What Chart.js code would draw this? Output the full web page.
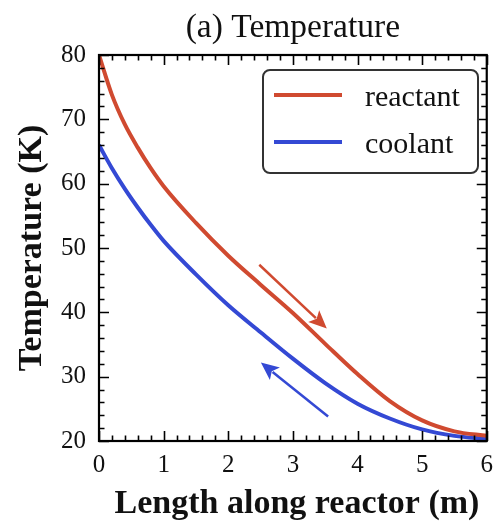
<!DOCTYPE html>
<html>
<head>
<meta charset="utf-8">
<script src="https://cdn.jsdelivr.net/npm/chart.js@4.4.1/dist/chart.umd.min.js"></script>
<style>
  html, body { margin: 0; padding: 0; background: #fff; }
  #wrap { width: 502px; height: 523px; }
</style>
</head>
<body>
<div id="wrap"><canvas id="chart"></canvas></div>
<script>
// values
const lengths  = [0, 0.2, 0.4, 0.6, 0.8, 1, 1.5, 2, 2.5, 3, 3.5, 4, 4.5, 5, 5.5, 6]
const reactant = [80, 73.8, 69.2, 65.6, 62.4, 59.6, 53.9, 48.8, 44.3, 39.9, 35.1, 30.4, 26.2, 23.2, 21.5, 20.8]
const coolant  = [66, 62.4, 59.2, 56.3, 53.6, 51.1, 45.9, 41.1, 36.9, 32.8, 29.0, 25.8, 23.5, 21.8, 20.8, 20.3]

// arrows: [x from, y from, x to, y to] in data units
const reactant_arrow = [2.48, 47.4, 3.525, 37.5]
const coolant_arrow  = [3.545, 23.8, 2.505, 32.2]

const x_ticks = [0, 1, 2, 3, 4, 5, 6]
const y_ticks = [20, 30, 40, 50, 60, 70, 80]

const red = '#d04a30'
const blue = '#3449d4'
const serif = '"Liberation Serif", "Times New Roman", serif'

function points(ys) {
    let out = []
    for (let i = 0; i < lengths.length; i++) {
        out.push({ x: lengths[i], y: ys[i] })
    }
    return out
}

function drawArrow(ctx, chart, a, color) {
    const xs = chart.scales.x, ys = chart.scales.y
    const x1 = xs.getPixelForValue(a[0]), y1 = ys.getPixelForValue(a[1])
    const x2 = xs.getPixelForValue(a[2]), y2 = ys.getPixelForValue(a[3])
    const ang = Math.atan2(y2 - y1, x2 - x1)
    const head = 18, half = 8
    const bx = x2 - head * Math.cos(ang), by = y2 - head * Math.sin(ang)
    ctx.save()
    ctx.strokeStyle = color
    ctx.fillStyle = color
    ctx.lineWidth = 2.5
    ctx.beginPath()
    ctx.moveTo(x1, y1)
    ctx.lineTo(bx + 3 * Math.cos(ang), by + 3 * Math.sin(ang))
    ctx.stroke()
    ctx.beginPath()
    ctx.moveTo(x2, y2)
    ctx.lineTo(bx - half * Math.sin(ang), by + half * Math.cos(ang))
    ctx.lineTo(bx + 4 * Math.cos(ang), by + 4 * Math.sin(ang))
    ctx.lineTo(bx + half * Math.sin(ang), by - half * Math.cos(ang))
    ctx.closePath()
    ctx.fill()
    ctx.restore()
}

const decorations = {
    id: 'decorations',
    afterDraw(chart) {
        const ctx = chart.ctx
        const a = chart.chartArea
        const xs = chart.scales.x, ys = chart.scales.y

        // ticks inside on all four sides
        ctx.save()
        ctx.strokeStyle = '#000'
        ctx.lineWidth = 1.6
        ctx.beginPath()
        for (let v = 0; v <= 6.0001; v += 0.2) {
            const major = Math.abs(v - Math.round(v)) < 1e-6
            const len = major ? 10 : 5.5
            const px = Math.round(xs.getPixelForValue(v)) + 0.5
            ctx.moveTo(px, a.bottom); ctx.lineTo(px, a.bottom - len)
            ctx.moveTo(px, a.top); ctx.lineTo(px, a.top + len)
        }
        for (let v = 20; v <= 80.0001; v += 2) {
            const major = v % 10 === 0
            const len = major ? 10 : 5.5
            const py = Math.round(ys.getPixelForValue(v)) + 0.5
            ctx.moveTo(a.left, py); ctx.lineTo(a.left + len, py)
            ctx.moveTo(a.right, py); ctx.lineTo(a.right - len, py)
        }
        ctx.stroke()

        // frame
        ctx.lineWidth = 2.2
        ctx.strokeRect(a.left, a.top, a.right - a.left, a.bottom - a.top)
        ctx.restore()

        drawArrow(ctx, chart, reactant_arrow, red)
        drawArrow(ctx, chart, coolant_arrow, blue)

        // legend box
        ctx.save()
        ctx.strokeStyle = '#333'
        ctx.fillStyle = 'rgba(255,255,255,0.85)'
        ctx.lineWidth = 2
        ctx.beginPath()
        ctx.roundRect(263, 70, 215, 103, 7)
        ctx.fill()
        ctx.stroke()
        const items = [['reactant', red, 95], ['coolant', blue, 142]]
        ctx.font = '30px ' + serif
        ctx.textBaseline = 'alphabetic'
        ctx.textAlign = 'left'
        for (const it of items) {
            ctx.strokeStyle = it[1]
            ctx.lineWidth = 4
            ctx.beginPath()
            ctx.moveTo(274, it[2]); ctx.lineTo(342, it[2])
            ctx.stroke()
            ctx.fillStyle = '#111'
            ctx.fillText(it[0], 365, it[2] + 11)
        }

        // titles
        ctx.fillStyle = '#111'
        ctx.textAlign = 'center'
        ctx.font = '33.5px ' + serif
        ctx.fillText('(a) Temperature', (a.left + a.right) / 2, 37)
        ctx.font = 'bold 34px ' + serif
        ctx.fillText('Length along reactor (m)', 297, 513)
        ctx.translate(41, 248)
        ctx.rotate(-Math.PI / 2)
        ctx.fillText('Temperature (K)', 0, 0)
        ctx.restore()
    }
}

new Chart(
    document.getElementById('chart'),
    {
        type: 'line',
        data: {
            datasets: [
                {
                    label: 'reactant',
                    data: points(reactant),
                    borderColor: red,
                    borderWidth: 4,
                    pointRadius: 0,
                    cubicInterpolationMode: 'monotone',
                    fill: false
                },
                {
                    label: 'coolant',
                    data: points(coolant),
                    borderColor: blue,
                    borderWidth: 4,
                    pointRadius: 0,
                    cubicInterpolationMode: 'monotone',
                    fill: false
                }
            ]
        },
        options: {
            responsive: true,
            maintainAspectRatio: false,
            animation: false,
            layout: {
                padding: { left: 0, right: 11, top: 55, bottom: 0 }
            },
            plugins: {
                legend: { display: false },
                tooltip: { enabled: false }
            },
            scales: {
                x: {
                    type: 'linear',
                    min: 0,
                    max: 6,
                    afterFit: s => { s.height = 82 },
                    afterBuildTicks: s => { s.ticks = x_ticks.map(v => ({ value: v })) },
                    grid: { display: false, drawTicks: false },
                    border: { display: false },
                    ticks: {
                        padding: 9,
                        color: '#111',
                        maxRotation: 0,
                        font: { family: serif, size: 25 }
                    }
                },
                y: {
                    min: 20,
                    max: 80,
                    afterFit: s => { s.width = 99 },
                    afterBuildTicks: s => { s.ticks = y_ticks.map(v => ({ value: v })) },
                    grid: { display: false, drawTicks: false },
                    border: { display: false },
                    ticks: {
                        padding: 13,
                        color: '#111',
                        font: { family: serif, size: 25 }
                    }
                }
            }
        },
        plugins: [decorations]
    }
)
</script>
</body>
</html>
